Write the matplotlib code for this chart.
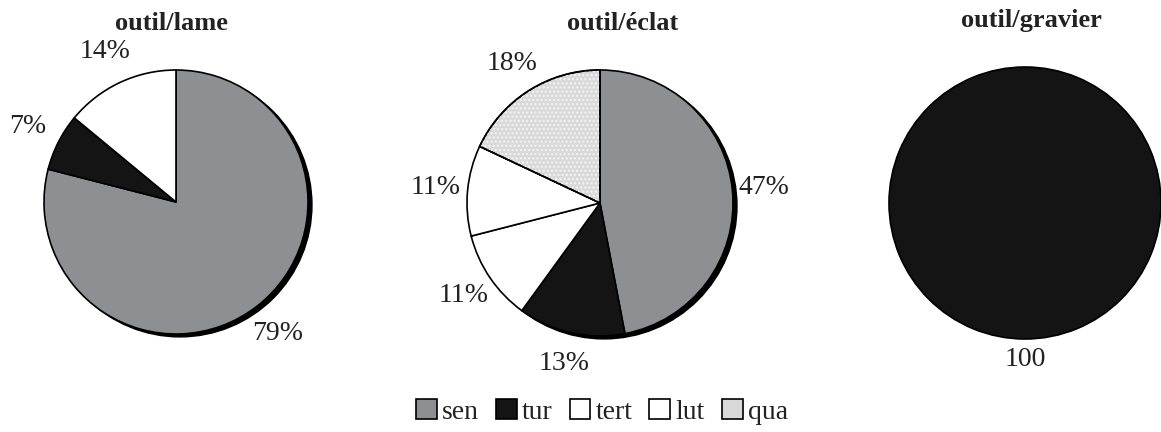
import numpy as np
import matplotlib.pyplot as plt
from matplotlib.patches import Circle, Rectangle, Wedge

plt.rcParams['font.family'] = ['Liberation Serif', 'DejaVu Serif']

# data
categories = ['sen', 'tur', 'tert', 'lut', 'qua']
colors = {'sen': '#8e8f92', 'tur': '#141414', 'tert': 'white', 'lut': 'white', 'qua': '#d9d9d9'}

titles = ['outil/lame', 'outil/éclat', 'outil/gravier']
pie_cats = [['sen', 'tur', 'tert'],
            ['sen', 'tur', 'tert', 'lut', 'qua'],
            ['tur']]
pie_vals = [[79, 7, 14],
            [47, 13, 11, 11, 18],
            [100]]
pie_labels = [['79%', '7%', '14%'],
              ['47%', '13%', '11%', '11%', '18%'],
              ['100']]

W, H = 1161, 432
fig = plt.figure(figsize=(W / 100, H / 100), dpi=100)

# pixel layout: centre x, centre y, radius
layout = [(176, 202, 132), (600, 203, 133), (1025, 203, 136)]
title_pos = [(171, 23), (623, 23), (1031, 21)]
label_dist = [1.26, 1.24, 1.15]
shadow = [True, True, False]


def speckle(ax, w):
    # light mottled texture drawn over the 'qua' wedge
    over = Wedge(w.center, w.r, w.theta1, w.theta2, facecolor='none',
                 edgecolor='none', hatch='....', linewidth=0, zorder=2)
    over._hatch_color = (0.96, 0.96, 0.96, 1.0)
    ax.add_patch(over)
    rim = Wedge(w.center, w.r, w.theta1, w.theta2, facecolor='none',
                edgecolor='black', linewidth=1.2, zorder=3)
    ax.add_patch(rim)


box = 320
for i in range(3):
    cx, cy, r = layout[i]
    ax = fig.add_axes([(cx - box / 2) / W, 1 - (cy + box / 2) / H, box / W, box / H])
    lim = box / 2 / r
    ax.set_aspect('equal')
    ax.axis('off')
    if shadow[i]:
        ax.add_patch(Circle((0.03, -0.022), 1.0, facecolor='black', edgecolor='black', zorder=0))
    cols = [colors[c] for c in pie_cats[i]]
    wedges, texts = ax.pie(pie_vals[i], colors=cols, startangle=90, counterclock=False,
                           labels=pie_labels[i], labeldistance=label_dist[i],
                           wedgeprops=dict(edgecolor='black', linewidth=1.2),
                           textprops=dict(fontsize=20, color='#222222', ha='center', va='center'))
    for w, c in zip(wedges, pie_cats[i]):
        w.set_zorder(1)
        if c == 'qua':
            speckle(ax, w)
    ax.set_xlim(-lim, lim)
    ax.set_ylim(-lim, lim)
    tx, ty = title_pos[i]
    fig.text(tx / W, 1 - ty / H, titles[i], fontsize=19, fontweight='bold',
             ha='center', va='center', color='#222222')

handles = [Rectangle((0, 0), 1, 1, facecolor=colors[c], edgecolor='black', linewidth=1.2)
           for c in categories]
fig.legend(handles, categories, loc='center', bbox_to_anchor=(602 / W, 1 - 412 / H),
           ncol=5, frameon=False, fontsize=20, handlelength=0.75, handleheight=0.75,
           handletextpad=0.2, columnspacing=0.6, labelcolor='#222222')

fig.savefig('out.png', dpi=100)
